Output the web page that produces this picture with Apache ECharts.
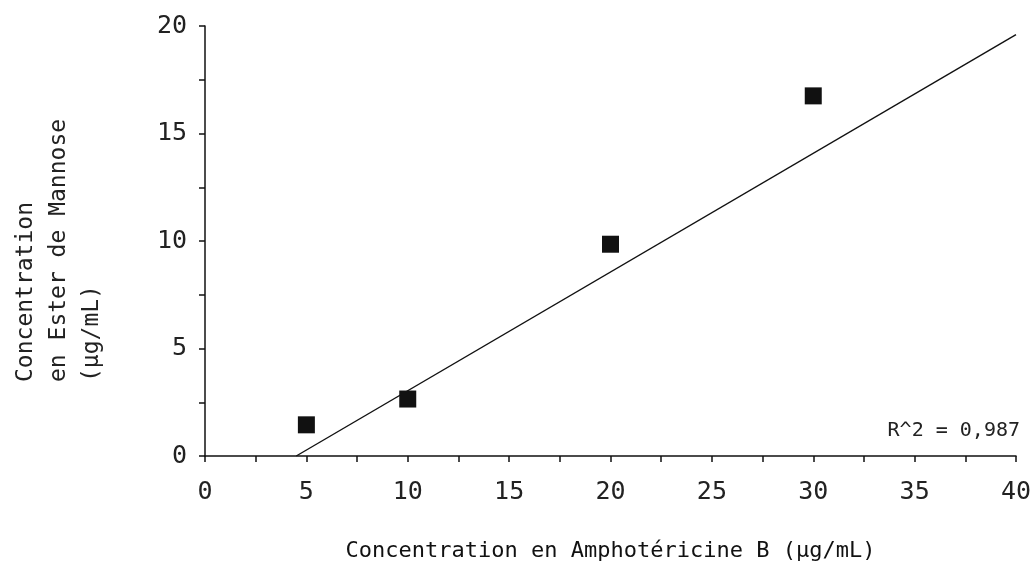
<!DOCTYPE html>
<html>
<head>
<meta charset="utf-8">
<script src="https://cdn.jsdelivr.net/npm/echarts@6/dist/echarts.min.js"></script>
<style>
  html, body { margin: 0; padding: 0; background: #fff; }
  #chart { width: 1035px; height: 570px; }
</style>
</head>
<body>
<div id="chart"></div>
<script>
  // points
  const amphoB = [5, 10, 20, 30]
  const esterMannose = [1.45, 2.65, 9.85, 16.75]
  // fitted line, ends as drawn
  const fitX = [4.5, 40]
  const fitY = [0, 19.6]
  const r2Label = 'R^2 = 0,987'

  const font = '"DejaVu Sans Mono", monospace'

  const chart = echarts.init(document.getElementById('chart'))

  const option = {
    animation: false,
    grid: { left: 205, right: 19, top: 26, bottom: 114 },
    xAxis: {
      type: 'value',
      min: 0, max: 40, interval: 5,
      name: 'Concentration en Amphotéricine B (µg/mL)',
      nameLocation: 'middle',
      nameGap: 84,
      nameTextStyle: { color: '#111', fontSize: 22, fontFamily: font },
      axisLine: { lineStyle: { color: '#111', width: 1.5 } },
      axisTick: { show: true, length: 6, lineStyle: { color: '#111', width: 1.5 } },
      minorTick: { show: true, splitNumber: 2, length: 6, lineStyle: { color: '#111', width: 1.5 } },
      axisLabel: { color: '#222', fontSize: 25, fontFamily: font, margin: 24 },
      splitLine: { show: false }
    },
    yAxis: {
      type: 'value',
      min: 0, max: 20, interval: 5,
      axisLine: { show: true, lineStyle: { color: '#111', width: 1.5 } },
      axisTick: { show: true, length: 6, lineStyle: { color: '#111', width: 1.5 } },
      minorTick: { show: true, splitNumber: 2, length: 6, lineStyle: { color: '#111', width: 1.5 } },
      axisLabel: { color: '#222', fontSize: 25, fontFamily: font, margin: 18 },
      splitLine: { show: false }
    },
    graphic: [
      {
        type: 'text',
        x: 10, y: 382,
        rotation: Math.PI / 2,
        style: {
          text: 'Concentration\nen Ester de Mannose\n(µg/mL)',
          font: '23px ' + font,
          fill: '#222',
          textAlign: 'left',
          textVerticalAlign: 'top',
          lineHeight: 33
        }
      },
      {
        type: 'text',
        right: 15, top: 421,
        style: {
          text: r2Label,
          font: '20px ' + font,
          fill: '#222'
        }
      }
    ],
    series: [
      {
        type: 'line',
        data: fitX.map((x, i) => [x, fitY[i]]),
        symbol: 'none',
        lineStyle: { color: '#111', width: 1.4 },
        z: 2
      },
      {
        type: 'scatter',
        data: amphoB.map((x, i) => [x, esterMannose[i]]),
        symbol: 'rect',
        symbolSize: 17,
        itemStyle: { color: '#111', opacity: 1 },
        z: 3
      }
    ]
  }

  chart.setOption(option)
</script>
</body>
</html>
